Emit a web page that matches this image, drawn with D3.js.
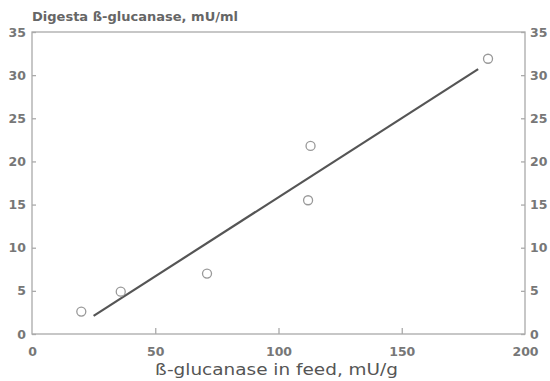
<!DOCTYPE html>
<html>
<head>
<meta charset="utf-8">
<script src="https://cdn.jsdelivr.net/npm/d3@7"></script>
<style>
  html, body { margin: 0; padding: 0; background: #fff; }
  svg { display: block; }
  text { font-family: "DejaVu Sans", "Liberation Sans", Arial, sans-serif; font-weight: bold; fill: #777; }
</style>
</head>
<body>
<svg id="chart" width="550" height="381"></svg>
<script>
// β-glucanase activity in feed (mU/g) vs. in digesta (mU/ml)
const feedActivity    = [20, 36, 71, 112, 113, 185];
const digestaActivity = [2.6, 4.9, 7.0, 15.5, 21.8, 31.9];

// Fitted regression line endpoints
const fitX = [25, 181];
const fitY = [2.1, 30.7];

const xTicks = [0, 50, 100, 150, 200];
const yTicks = [0, 5, 10, 15, 20, 25, 30, 35];

const xTitle = "ß-glucanase in feed, mU/g";
const yTitle = "Digesta ß-glucanase, mU/ml";

const svg = d3.select("#chart");
const plotLeft = 32, plotRight = 525, plotTop = 32, plotBottom = 334;

const x = d3.scaleLinear().domain([0, 200]).range([plotLeft, plotRight]);
const y = d3.scaleLinear().domain([0, 35]).range([plotBottom, plotTop]);

const axisColor = "#aaa";

// Frame
svg.append("rect")
  .attr("x", plotLeft).attr("y", plotTop)
  .attr("width", plotRight - plotLeft).attr("height", plotBottom - plotTop)
  .attr("fill", "none").attr("stroke", axisColor).attr("stroke-width", 1.3);

function styleAxis(g) {
  g.select(".domain").remove();
  g.selectAll(".tick line").attr("stroke", axisColor).attr("stroke-width", 1.3);
  g.selectAll(".tick text").attr("fill", "#737373")
    .style("font-size", "12.5px").style("font-weight", "bold");
}

// Left axis (ticks point inward)
svg.append("g").attr("transform", `translate(${plotLeft},0)`)
  .call(d3.axisLeft(y).tickValues(yTicks).tickSizeInner(-4).tickSizeOuter(0).tickPadding(6))
  .call(styleAxis);

// Right axis
svg.append("g").attr("transform", `translate(${plotRight},0)`)
  .call(d3.axisRight(y).tickValues(yTicks).tickSizeInner(-4).tickSizeOuter(0).tickPadding(5))
  .call(styleAxis);

// Bottom axis
svg.append("g").attr("transform", `translate(0,${plotBottom})`)
  .call(d3.axisBottom(x).tickValues(xTicks).tickSizeInner(-6).tickSizeOuter(0).tickPadding(13.5))
  .call(styleAxis)
  .call(g => g.selectAll(".tick line").filter(d => d === 0 || d === 200).remove());

// Regression line
svg.append("line")
  .attr("x1", x(fitX[0])).attr("y1", y(fitY[0]))
  .attr("x2", x(fitX[1])).attr("y2", y(fitY[1]))
  .attr("stroke", "#555").attr("stroke-width", 2.2);

// Observations
svg.append("g").selectAll("circle")
  .data(feedActivity.map((v, i) => [v, digestaActivity[i]]))
  .join("circle")
  .attr("cx", d => x(d[0])).attr("cy", d => y(d[1]))
  .attr("r", 4.5)
  .attr("fill", "none").attr("stroke", "#999").attr("stroke-width", 1.3);

// Titles
svg.append("text")
  .attr("x", 32).attr("y", 21)
  .attr("textLength", 206).attr("lengthAdjust", "spacingAndGlyphs")
  .style("font-size", "11.5px").style("fill", "#666")
  .text(yTitle);

svg.append("text")
  .attr("x", 155).attr("y", 375)
  .attr("textLength", 243).attr("lengthAdjust", "spacingAndGlyphs")
  .style("font-size", "16px").style("font-weight", "normal").style("fill", "#555")
  .text(xTitle);
</script>
</body>
</html>
